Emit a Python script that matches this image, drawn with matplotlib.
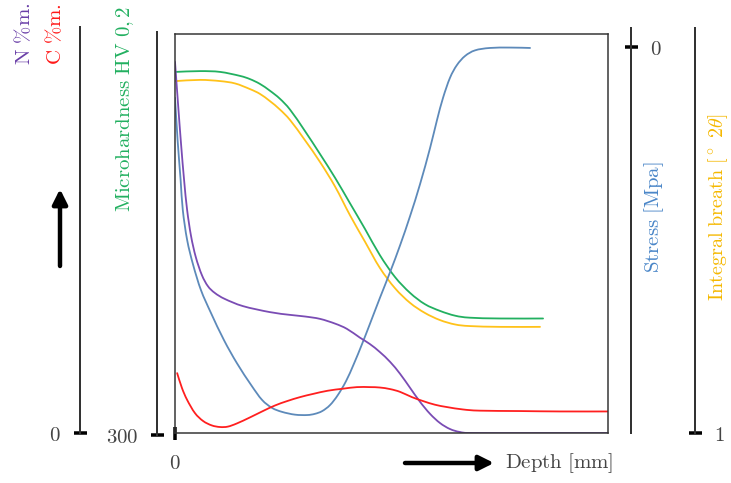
import matplotlib
matplotlib.use('Agg')
import matplotlib.pyplot as plt
from matplotlib.path import Path
from matplotlib.patches import PathPatch

plt.rcParams['mathtext.fontset'] = 'cm'

# ---------------- data (depth and values in relative units 0..100) ----------------
hv_depth = [0.2, 5.8, 10.4, 15.0, 17.3, 19.6, 21.9, 24.2, 26.6, 30.0, 33.5, 37.0, 40.4,
            43.9, 47.3, 50.8, 54.3, 57.7, 61.2, 64.7, 68.1, 75.1, 85.0]
hv_value = [90.5, 90.7, 90.5, 89.5, 88.7, 87.5, 85.8, 83.8, 81.0, 75.7, 69.9, 63.9, 57.6,
            51.1, 44.6, 39.1, 35.1, 32.3, 30.6, 29.4, 28.9, 28.7, 28.7]

ib_depth = [0.2, 5.8, 10.4, 13.9, 17.3, 19.6, 21.9, 24.2, 26.6, 30.0, 33.5, 37.0, 40.4,
            43.9, 47.3, 50.8, 54.3, 57.7, 61.2, 64.7, 68.1, 75.1, 84.3]
ib_value = [88.2, 88.5, 88.2, 87.6, 86.2, 85.0, 83.2, 81.1, 78.4, 73.4, 67.9, 61.7, 54.6,
            47.9, 41.4, 36.3, 32.6, 30.1, 28.3, 27.2, 26.8, 26.6, 26.6]

n_depth = [0.0, 0.7, 1.4, 2.1, 2.8, 3.7, 4.8, 6.2, 7.6, 9.2, 11.5, 15.7, 21.9, 26.6,
           30.0, 33.5, 37.0, 39.7, 42.7, 45.0, 47.3, 49.7, 52.0, 54.3, 56.6, 58.9,
           61.2, 63.5, 65.8, 68.8, 84.3, 100.0]
n_value = [93.0, 82.5, 72.4, 63.4, 55.9, 49.4, 44.1, 39.6, 36.8, 35.1, 33.6, 31.8, 30.3,
           29.6, 29.2, 28.6, 27.4, 26.1, 23.9, 22.3, 20.3, 17.8, 14.8, 11.3, 7.8, 4.8,
           2.5, 1.0, 0.25, 0.0, 0.0, 0.0]

st_depth = [0.0, 0.6, 1.3, 1.8, 2.8, 4.2, 6.0, 8.3, 11.3, 14.3, 17.6, 20.1, 22.4, 24.7,
            27.7, 30.5, 32.3, 34.0, 35.8, 37.6, 39.5, 41.3, 43.2, 45.0, 47.3, 49.7,
            52.0, 54.3, 56.6, 58.9, 60.5, 61.9, 63.5, 65.1, 67.0, 69.3, 72.7, 77.4, 82.0]
st_value = [84.0, 73.4, 63.4, 55.9, 48.4, 42.1, 35.8, 30.1, 23.3, 17.5, 12.0, 8.3, 6.3,
            5.3, 4.6, 4.5, 4.8, 5.5, 7.0, 9.5, 13.0, 17.3, 22.3, 27.3, 33.8, 40.4,
            47.1, 54.4, 62.4, 71.4, 78.4, 84.0, 89.0, 92.2, 94.5, 95.9, 96.5, 96.6, 96.5]

c_depth = [0.5, 1.6, 2.8, 4.6, 6.5, 8.5, 10.4, 12.2, 14.3, 17.3, 20.3, 23.1, 25.9, 28.9,
           31.9, 35.3, 38.8, 42.0, 45.0, 47.3, 49.7, 52.0, 54.7, 57.3, 60.0, 62.8, 66.5,
           70.4, 79.7, 88.9, 100.0]
c_value = [15.0, 11.3, 8.3, 5.0, 3.0, 1.9, 1.5, 1.6, 2.4, 3.9, 5.5, 6.9, 8.0, 9.0,
           9.8, 10.6, 11.1, 11.5, 11.5, 11.4, 11.0, 10.3, 9.0, 8.0, 7.1, 6.5, 5.9,
           5.6, 5.5, 5.4, 5.4]

# ---------------- figure ----------------
W, H = 731, 483
fig = plt.figure(figsize=(W / 100, H / 100), dpi=100)


def fx(px):
    return px / W


def fy(py):
    return 1 - py / H


PT = 72 / 100  # points per pixel
AXC = '#333333'
TXT = '#444444'
FS = 15

GREEN = '#22b060'
ORANGE = '#ffc21a'
PURPLE = '#7a4cb4'
BLUE = '#5d8aba'
RED = '#ff1f1f'


def smooth_line(axis, xs, ys, color, lw):
    """Draw a smooth curve through the data points (Catmull-Rom as cubic Bezier)."""
    pts = list(zip(xs, ys))
    n = len(pts)
    verts = [pts[0]]
    codes = [Path.MOVETO]
    for i in range(n - 1):
        p0 = pts[i - 1] if i > 0 else pts[i]
        p1 = pts[i]
        p2 = pts[i + 1]
        p3 = pts[i + 2] if i + 2 < n else pts[i + 1]
        c1 = (p1[0] + (p2[0] - p0[0]) / 6.0, p1[1] + (p2[1] - p0[1]) / 6.0)
        c2 = (p2[0] - (p3[0] - p1[0]) / 6.0, p2[1] - (p3[1] - p1[1]) / 6.0)
        verts += [c1, c2, p2]
        codes += [Path.CURVE4, Path.CURVE4, Path.CURVE4]
    patch = PathPatch(Path(verts, codes), facecolor='none', edgecolor=color,
                      lw=lw, capstyle='round', joinstyle='round')
    axis.add_patch(patch)


ax = fig.add_axes([fx(175), fy(433), (608 - 175) / W, (433 - 34) / H])
ax.set_xlim(0, 100)
ax.set_ylim(0, 100)
lw = 1.3
smooth_line(ax, hv_depth, hv_value, GREEN, lw)
smooth_line(ax, ib_depth, ib_value, ORANGE, lw)
smooth_line(ax, st_depth, st_value, BLUE, lw)
smooth_line(ax, n_depth, n_value, PURPLE, lw)
smooth_line(ax, c_depth, c_value, RED, lw)
for s in ax.spines.values():
    s.set_color(AXC)
    s.set_linewidth(1.5 * PT)
ax.set_yticks([])
ax.set_xticks([0], labels=[r'$0$'])
ax.tick_params(axis='x', direction='inout', length=13 * PT, width=3.5 * PT,
               pad=10, labelsize=FS, labelcolor=TXT, color='black')


def side_axis(xpix, ytop, ybot, tickfrac, label, side):
    a = fig.add_axes([fx(xpix), fy(ybot), 0.00001, (ybot - ytop) / H])
    a.set_ylim(0, 1)
    a.set_xticks([])
    a.patch.set_visible(False)
    for s in ['top', 'bottom', 'left', 'right']:
        a.spines[s].set_visible(False)
    a.spines[side].set_visible(True)
    a.spines[side].set_color(AXC)
    a.spines[side].set_linewidth(2.0 * PT)
    a.yaxis.set_ticks_position(side)
    a.set_yticks([tickfrac], labels=[label])
    a.tick_params(axis='y', direction='inout', length=13 * PT, width=3.5 * PT,
                  pad=9, labelsize=FS, labelcolor=TXT, color='black')
    return a


side_axis(80, 27, 433, 0.0, r'$0$', 'left')
side_axis(157, 32, 435, 0.0, r'$300$', 'left')
side_axis(631, 28, 433, (433 - 47.5) / (433 - 28), r'$0$', 'right')
side_axis(695, 28, 433, 0.0, r'$1$', 'right')

# axis titles
fig.text(fx(24), fy(34), r'$\mathrm{N\ \%m.}$', rotation=90, color='#6a3fa8',
         fontsize=FS, ha='center', va='center')
fig.text(fx(55), fy(34), r'$\mathrm{C\ \%m.}$', rotation=90, color='#ff1a1a',
         fontsize=FS, ha='center', va='center')
fig.text(fx(125), fy(109), r'$\mathrm{Microhardness\ HV\ 0,2}$', rotation=90,
         color=GREEN, fontsize=FS, ha='center', va='center')
fig.text(fx(654), fy(217), r'$\mathrm{Stress\ [Mpa]}$', rotation=90,
         color='#4a86c8', fontsize=FS, ha='center', va='center')
fig.text(fx(718), fy(207), r'$\mathrm{Integral\ breath\ [^\circ\ 2\theta]}$', rotation=90,
         color='#f5b800', fontsize=14.5, ha='center', va='center')
fig.text(fx(505), fy(463), r'$\mathrm{Depth\ [mm]}$', color=TXT,
         fontsize=FS, ha='left', va='center')

# arrows
ax.annotate('', xy=(60, H - 189), xytext=(60, H - 266), xycoords='figure pixels',
            textcoords='figure pixels',
            arrowprops=dict(arrowstyle='-|>', lw=3.2, color='black',
                            mutation_scale=22, shrinkA=0, shrinkB=0))
ax.annotate('', xy=(494, H - 463), xytext=(405, H - 463), xycoords='figure pixels',
            textcoords='figure pixels',
            arrowprops=dict(arrowstyle='-|>', lw=3.2, color='black',
                            mutation_scale=22, shrinkA=0, shrinkB=0))

fig.savefig('out.png', dpi=100)
